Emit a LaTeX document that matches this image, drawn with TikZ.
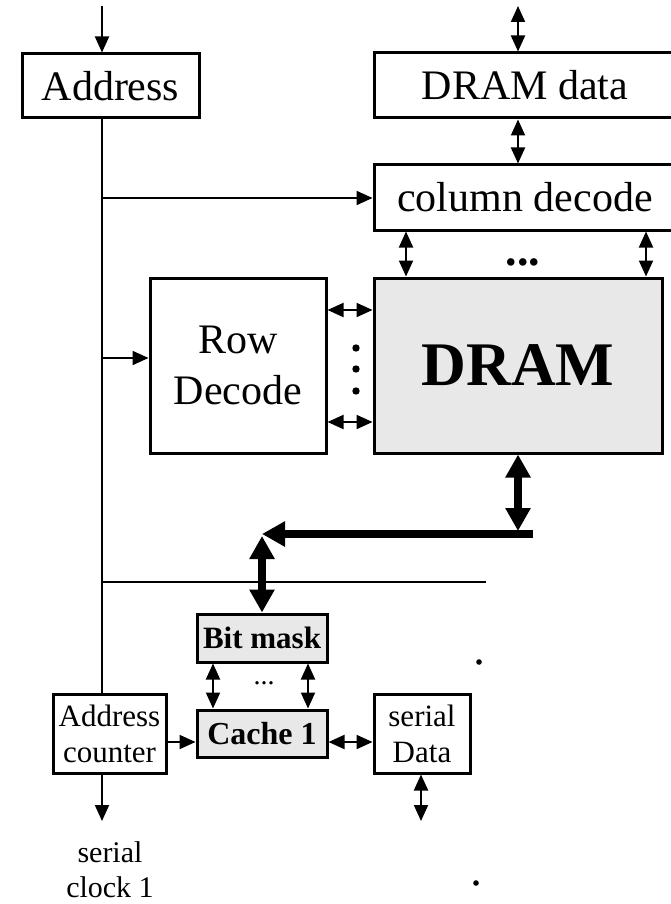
\documentclass[tikz,border=0pt]{standalone}
\usepackage{fontspec}
\setmainfont{Liberation Serif}
\usetikzlibrary{arrows.meta}
\definecolor{boxgray}{HTML}{E8E8E8}
\begin{document}
\begin{tikzpicture}[x=1pt,y=-1pt,
  box/.style={draw, line width=3pt, inner sep=0pt, align=center},
  big/.style={font=\fontsize{42}{51}\selectfont},
  small/.style={font=\fontsize{31}{36}\selectfont},
  conn/.style={line width=2pt},
  arr/.style={conn, -{Triangle[length=16pt,width=14pt]}},
  darr/.style={conn, {Triangle[length=16pt,width=14pt]}-{Triangle[length=16pt,width=14pt]}},
  thick arr/.style={line width=8pt, -{Triangle[length=23pt,width=24pt]}},
  thick darr/.style={line width=8pt, {Triangle[length=23pt,width=24pt]}-{Triangle[length=23pt,width=24pt]}},
  dotc/.style={fill=black, draw=none}
]
\useasboundingbox (0,0) rectangle (671,904);
\clip (0,0) rectangle (671,904);

% boxes
\node[box,big,minimum width=177pt,minimum height=64pt] (addr) at (110.5,86) {Address};
\node[box,big,minimum width=302pt,minimum height=65pt] (dramdata) at (525,85.5) {DRAM data};
\node[box,big,minimum width=302pt,minimum height=65pt] (coldec) at (525,197.5) {column decode};
\node[box,big,minimum width=176pt,minimum height=175pt] (rowdec) at (238,365.5) {Row\\Decode};
\node[box,fill=boxgray,minimum width=288pt,minimum height=175pt,font=\fontsize{62}{70}\selectfont\bfseries] (dram) at (518,365.5) {DRAM};
\node[box,fill=boxgray,minimum width=130pt,minimum height=48pt,font=\fontsize{31}{36}\selectfont\bfseries] (bitmask) at (262,638) {Bit mask};
\node[box,fill=boxgray,minimum width=130pt,minimum height=47pt,font=\fontsize{32}{36}\selectfont\bfseries] (cache) at (262,733.5) {Cache 1};
\node[box,small,minimum width=113pt,minimum height=79pt] (addrcnt) at (109.5,733.5) {Address\\counter};
\node[box,small,minimum width=96pt,minimum height=79pt] (serdata) at (422,733.5) {serial\\Data};
\node[font=\fontsize{30}{35}\selectfont,align=center] (clk) at (110,870) {serial\\clock 1};

% helper coordinates
\coordinate (inA) at (102,6);
\coordinate (inD) at (518,6);
\coordinate (busx) at (102,0);
\coordinate (ycol) at (0,198);
\coordinate (yrow) at (0,358);
\coordinate (yr1) at (0,310);
\coordinate (yr2) at (0,422);
\coordinate (cx1) at (406,0);
\coordinate (cx2) at (646,0);
\coordinate (dx) at (518,0);
\coordinate (tdrop) at (518,531);
\coordinate (hstart) at (533,534);
\coordinate (hend) at (262,534);
\coordinate (vtop) at (262,536);
\coordinate (hl1) at (102,582);
\coordinate (hl2) at (486,582);
\coordinate (bx1) at (213,0);
\coordinate (bx2) at (308,0);
\coordinate (ycc) at (0,742);
\coordinate (sdx) at (421,0);
\coordinate (sdout) at (421,821);
\coordinate (clkout) at (102,821);

% connectors
\draw[arr] (inA) -- (addr.north -| inA);
\draw[darr] (inD) -- (dramdata.north -| inD);
\draw[darr] (dramdata.south -| dx) -- (coldec.north -| dx);
\draw[conn] (addr.south -| busx) -- (addrcnt.north -| busx);
\draw[arr] (busx |- ycol) -- (coldec.west |- ycol);
\draw[darr] (coldec.south -| cx1) -- (dram.north -| cx1);
\draw[darr] (coldec.south -| cx2) -- (dram.north -| cx2);
\draw[arr] (busx |- yrow) -- (rowdec.west |- yrow);
\draw[darr] (rowdec.east |- yr1) -- (dram.west |- yr1);
\draw[darr] (rowdec.east |- yr2) -- (dram.west |- yr2);
\draw[thick darr] (dram.south -| dx) -- (tdrop);
\draw[thick arr] (hstart) -- (hend);
\draw[thick darr] (vtop) -- (bitmask.north);
\draw[conn] (hl1) -- (hl2);
\draw[darr] (bitmask.south -| bx1) -- (cache.north -| bx1);
\draw[darr] (bitmask.south -| bx2) -- (cache.north -| bx2);
\draw[arr] (addrcnt.east |- ycc) -- (cache.west |- ycc);
\draw[darr] (cache.east |- ycc) -- (serdata.west |- ycc);
\draw[darr] (serdata.south -| sdx) -- (sdout);
\draw[arr] (addrcnt.south -| busx) -- (clkout);

% dots
\node[font=\fontsize{46}{50}\selectfont\bfseries] (topdots) at (523,262) {...};
\node[font=\fontsize{28}{30}\selectfont] (smalldots) at (264,683) {...};
\fill[dotc] (356,348) circle (3.7pt);
\fill[dotc] (356,369) circle (3.7pt);
\fill[dotc] (356,391) circle (3.7pt);
\fill[dotc] (479,662) circle (2.8pt);
\fill[dotc] (476,883) circle (2.8pt);
\end{tikzpicture}
\end{document}
